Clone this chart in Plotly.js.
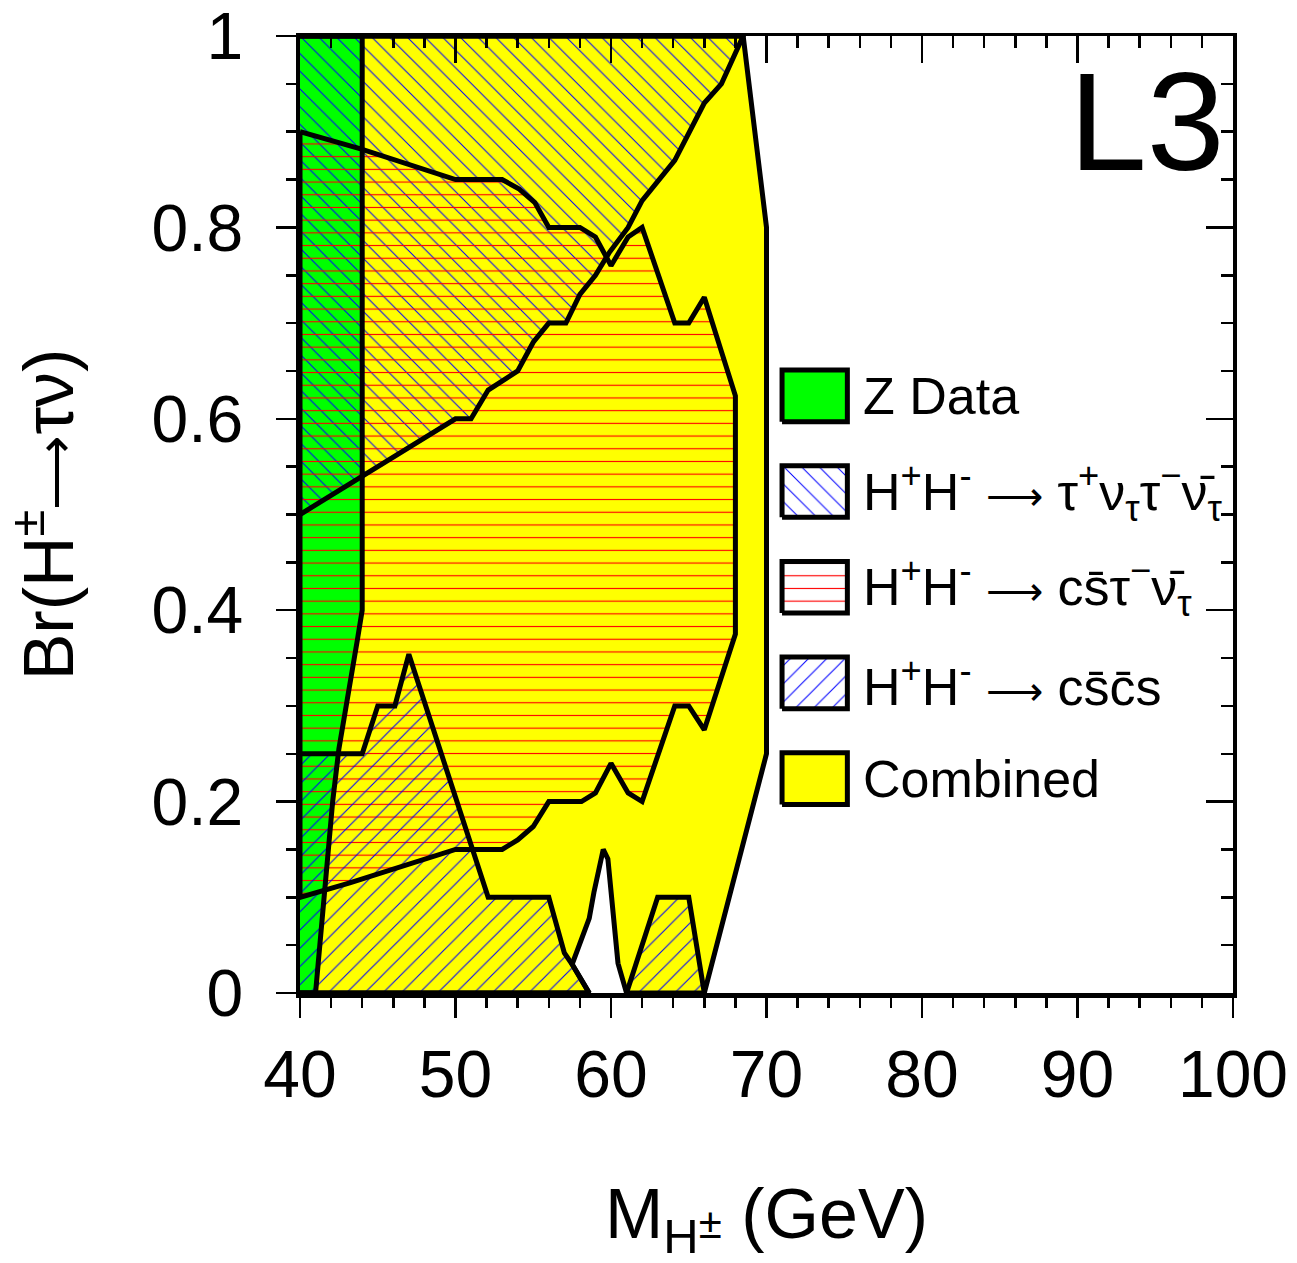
<!DOCTYPE html>
<html>
<head>
<meta charset="utf-8">
<script src="https://cdn.plot.ly/plotly-3.0.1.min.js"></script>
<style>
  html, body { margin: 0; padding: 0; background: #fff; }
  #chart { width: 1297px; height: 1263px; }
</style>
</head>
<body>
<div id="chart"></div>
<script>
// L3 excluded regions in the (M_H±, Br(H±->tau nu)) plane
// each region is a closed outline: mass in GeV, branching ratio

// combined exclusion (yellow), with the small allowed gap near 59-61 GeV
const combinedM  = [40, 58.6, 57.5, 58.1, 58.6, 58.9, 59.5, 59.8, 60.45, 61, 66, 70, 70, 68.5, 40];
const combinedBr = [0, 0, 0.03, 0.056, 0.078, 0.105, 0.15, 0.14, 0.031, 0, 0, 0.25, 0.8, 1, 1];

// Z width data (green)
const zDataM  = [40, 41, 42.1, 42.5, 43.7, 44, 44, 40];
const zDataBr = [0, 0, 0.2, 0.255, 0.37, 0.4, 1, 1];

// H+H- -> tau nu tau nu (blue \ hatch)
const tauM  = [40, 44, 50, 51, 52.1, 54, 55, 56, 57.1, 58, 59, 59.9, 61.1, 62, 64.1, 66, 67.1, 68.5, 40];
const tauBr = [0.5, 0.54, 0.6, 0.6, 0.63, 0.65, 0.68, 0.7, 0.7, 0.73, 0.75, 0.774, 0.8, 0.828, 0.87, 0.93, 0.95, 1, 1];

// H+H- -> cs tau nu (red horizontal hatch)
const csTauM  = [40, 43.9, 50, 53, 54.1, 55.1, 56, 58, 59, 60, 61.1, 62, 64.1, 65, 66, 68,
                 68, 66, 65, 64.1, 62, 61.1, 60, 59, 58.1, 56, 55, 54, 53, 50, 43.2, 40];
const csTauBr = [0.9, 0.882, 0.85, 0.85, 0.84, 0.826, 0.8, 0.8, 0.79, 0.76, 0.79, 0.8, 0.7, 0.7, 0.727, 0.624,
                 0.375, 0.275, 0.3, 0.3, 0.2, 0.209, 0.24, 0.209, 0.2, 0.2, 0.174, 0.16, 0.15, 0.15, 0.115, 0.1];

// H+H- -> cs cs (blue / hatch), two pieces
const cscsM  = [40, 58.6, 57.5, 57, 56, 52.1, 47, 46.1, 45, 44, 40, null, 61, 63, 65, 66];
const cscsBr = [0, 0, 0.03, 0.042, 0.1, 0.1, 0.354, 0.3, 0.3, 0.25, 0.25, null, 0, 0.1, 0.1, 0];

const yTickVals = [0, 0.2, 0.4, 0.6, 0.8, 1];
const yTickText = ["0", "0.2", "0.4", "0.6", "0.8", "1"];

const ARROW = "<span style=\"font-size:40px\">⟶</span>";
const legendLabels = [
    "Z Data",
    "H<sup>+</sup>H<sup>-</sup> " + ARROW + " τ<sup>+</sup>ν<sub>τ</sub>τ<sup>−</sup>ν\u0304<sub>τ</sub>",
    "H<sup>+</sup>H<sup>-</sup> " + ARROW + " cs\u0304τ<sup>−</sup>ν\u0304<sub>τ</sub>",
    "H<sup>+</sup>H<sup>-</sup> " + ARROW + " cs\u0304c\u0304s",
    "Combined"
];

const FONT = "Liberation Sans, Arial, sans-serif";
const GREEN = "#00ff00", YELLOW = "#ffff00";
const hatchTau  = {shape: "\\", fgcolor: "#0000ff", bgcolor: "rgba(0,0,0,0)", size: 12.5, solidity: 0.08};
const hatchCs   = {shape: "-",  fgcolor: "#ff0000", bgcolor: "rgba(0,0,0,0)", size: 12.7, solidity: 0.09};
const hatchCscs = {shape: "/",  fgcolor: "#0000ff", bgcolor: "rgba(0,0,0,0)", size: 12.9, solidity: 0.08};

function region(x, y, opts) {
    return Object.assign({
        x: x, y: y, type: "scatter", mode: "lines", fill: "toself",
        line: {width: 0, color: "rgba(0,0,0,0)"}, hoverinfo: "skip", showlegend: false
    }, opts);
}
function outline(x, y) {
    return {x: x, y: y, type: "scatter", mode: "lines", line: {color: "black", width: 5},
            hoverinfo: "skip", showlegend: false};
}

var data = [
    region(combinedM, combinedBr, {fillcolor: YELLOW}),
    region(zDataM, zDataBr, {fillcolor: GREEN}),
    region(tauM, tauBr, {fillcolor: "rgba(0,0,0,0)", fillpattern: hatchTau}),
    region(csTauM, csTauBr, {fillcolor: "rgba(0,0,0,0)", fillpattern: hatchCs}),
    region(cscsM, cscsBr, {fillcolor: "rgba(0,0,0,0)", fillpattern: hatchCscs}),
    outline(combinedM, combinedBr),
    outline(zDataM, zDataBr),
    outline(tauM, tauBr),
    outline(csTauM.concat([csTauM[0]]), csTauBr.concat([csTauBr[0]])),
    outline(cscsM, cscsBr),
    // empty traces so the top and right tick axes get drawn
    {x: [], y: [], type: "scatter", xaxis: "x2", yaxis: "y", showlegend: false, hoverinfo: "skip"},
    {x: [], y: [], type: "scatter", xaxis: "x", yaxis: "y2", showlegend: false, hoverinfo: "skip"}
];

// legend keys, drawn inside the frame like the ROOT legend
const keyLeft = 71, keyRight = 75.2, keyTop = 0.624, keyStep = 0.1, keyHalf = 0.027;
const keyStyles = [
    {fillcolor: GREEN},
    {fillcolor: "white", fillpattern: Object.assign({}, hatchTau, {bgcolor: "white"})},
    {fillcolor: "white", fillpattern: Object.assign({}, hatchCs, {bgcolor: "white"})},
    {fillcolor: "white", fillpattern: Object.assign({}, hatchCscs, {bgcolor: "white"})},
    {fillcolor: YELLOW}
];
var annotations = [];
legendLabels.forEach((label, i) => {
    const c = keyTop - i * keyStep;
    data.push(region([keyLeft, keyRight, keyRight, keyLeft, keyLeft],
                     [c - keyHalf, c - keyHalf, c + keyHalf, c + keyHalf, c - keyHalf],
                     Object.assign({line: {color: "black", width: 5}}, keyStyles[i])));
    annotations.push({
        x: 76.1, y: c, xref: "x", yref: "y", xanchor: "left", yanchor: "middle",
        text: label, showarrow: false, font: {family: FONT, size: 52, color: "black"}
    });
});
annotations.push({
    x: 99.6, y: 0.911, xref: "x", yref: "y", xanchor: "right", yanchor: "middle",
    text: "L3", showarrow: false, font: {family: FONT, size: 140, color: "black"}
});

const tickFont = {family: FONT, size: 66, color: "black"};
var layout = {
    width: 1297, height: 1263,
    margin: {l: 300, r: 64, t: 36, b: 270, pad: 0},
    paper_bgcolor: "white", plot_bgcolor: "white",
    showlegend: false,
    font: {family: FONT, color: "black"},
    xaxis: {
        range: [40, 100], tickmode: "linear", tick0: 40, dtick: 10,
        ticks: "outside", ticklen: 20, tickwidth: 2.5, tickcolor: "black",
        minor: {tick0: 40, dtick: 2, ticks: "outside", ticklen: 10, tickwidth: 2.5, tickcolor: "black"},
        showline: true, linewidth: 4.5, linecolor: "black", ticklabeloverflow: "allow",
        showgrid: false, zeroline: false, tickfont: tickFont, ticklabelstandoff: 0,
        title: {text: "M<sub>H</sub><span style=\"font-size:42px\">±</span> (GeV)",
                font: {family: FONT, size: 70, color: "black"}, standoff: 92}
    },
    xaxis2: {
        range: [40, 100], overlaying: "x", side: "top", anchor: "y",
        tickmode: "linear", tick0: 40, dtick: 10,
        ticks: "inside", ticklen: 27, tickwidth: 2.5, tickcolor: "black",
        minor: {tick0: 40, dtick: 2, ticks: "inside", ticklen: 12, tickwidth: 2.5, tickcolor: "black"},
        showline: true, linewidth: 3, linecolor: "black",
        showgrid: false, zeroline: false, showticklabels: false
    },
    yaxis: {
        range: [0, 1], tickmode: "array", tickvals: yTickVals, ticktext: yTickText,
        ticks: "outside", ticklen: 20, tickwidth: 2.5, tickcolor: "black",
        minor: {tickmode: "linear", tick0: 0, dtick: 0.05, ticks: "outside", ticklen: 10, tickwidth: 2.5, tickcolor: "black"},
        showline: true, linewidth: 4.5, linecolor: "black", ticklabeloverflow: "allow",
        showgrid: false, zeroline: false, tickfont: tickFont, ticklabelstandoff: 19,
        title: {text: "Br(H<sup>±</sup><span style=\"font-size:52px\">⟶</span>τν)",
                font: {family: FONT, size: 70, color: "black"}, standoff: 70}
    },
    yaxis2: {
        range: [0, 1], overlaying: "y", side: "right", anchor: "x",
        tickmode: "linear", tick0: 0, dtick: 0.2,
        ticks: "inside", ticklen: 27, tickwidth: 2.5, tickcolor: "black",
        minor: {tick0: 0, dtick: 0.05, ticks: "inside", ticklen: 12, tickwidth: 2.5, tickcolor: "black"},
        showline: true, linewidth: 3.5, linecolor: "black",
        showgrid: false, zeroline: false, showticklabels: false
    },
    annotations: annotations
};

Plotly.newPlot("chart", data, layout, {staticPlot: true});
</script>
</body>
</html>
